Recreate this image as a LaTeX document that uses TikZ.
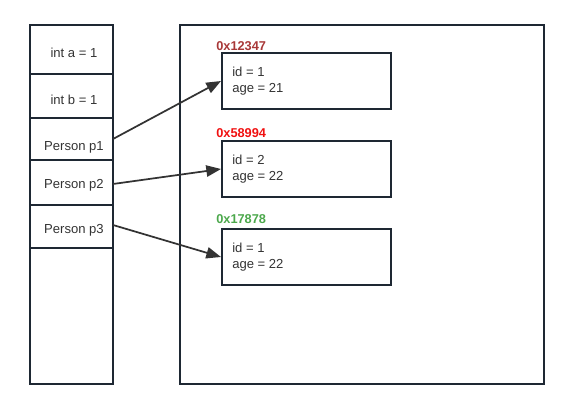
\documentclass[tikz,border=0pt]{standalone}
\usepackage{fontspec}
\setmainfont{Liberation Sans}
\usepackage{xcolor}
\usetikzlibrary{arrows.meta,positioning,calc}
\definecolor{framecol}{HTML}{1E2833}
\definecolor{txtcol}{HTML}{333333}
\definecolor{addrone}{HTML}{A83838}
\definecolor{addrtwo}{HTML}{F01010}
\definecolor{addrthree}{HTML}{4CA84C}
\tikzset{
  frame/.style={draw=framecol,line width=1.5pt},
  cell/.style={text=txtcol,font=\fontsize{9.8}{12}\selectfont,inner sep=0pt},
  objbox/.style={draw=framecol,line width=1.5pt,minimum width=126.75pt,minimum height=42pt,inner sep=0pt},
  objtext/.style={text=txtcol,font=\fontsize{9.8}{12}\selectfont,align=left,inner sep=0pt,anchor=north west},
  addr/.style={font=\bfseries\fontsize{9.6}{11}\selectfont,inner sep=0pt,anchor=south west},
  refarrow/.style={-{Triangle[length=11pt,width=8.5pt]},draw=txtcol,line width=1.3pt}
}
\begin{document}
\begin{tikzpicture}[x=0.75pt,y=-0.75pt]
  \useasboundingbox (0,0) rectangle (569,410);
  % stack
  \draw[frame] (30,25) rectangle (113,384);
  \foreach \yy in {74,118,160,205,248}
    \draw[frame] (30,\yy) -- (113,\yy);
  \node[cell] (va) at (74,53) {int a = 1};
  \node[cell] (vb) at (74,100) {int b = 1};
  \node[cell] (p1) at (74,147) {Person p1};
  \node[cell] (p2) at (74,185) {Person p2};
  \node[cell] (p3) at (74,230) {Person p3};
  \coordinate (p1out) at (113,139);
  \coordinate (p2out) at (113,184);
  \coordinate (p3out) at (113,225);
  % heap
  \draw[frame] (180,25) rectangle (544,384);
  \node[objbox,anchor=north west] (obj1) at (221,52) {};
  \node[objbox,anchor=north west] (obj2) at (221,140) {};
  \node[objbox,anchor=north west] (obj3) at (221,228) {};
  \node[objtext] (t1) at (232,67) {id = 1\\age = 21};
  \node[objtext] (t2) at (232,155) {id = 2\\age = 22};
  \node[objtext] (t3) at (232,243) {id = 1\\age = 22};
  \node[addr,text=addrone] (a1) at (216,51) {0x12347};
  \node[addr,text=addrtwo] (a2) at (216,138) {0x58994};
  \node[addr,text=addrthree] (a3) at (216,224) {0x17878};
  % references
  \draw[refarrow] (p1out) -- (obj1.west);
  \draw[refarrow] (p2out) -- (obj2.west);
  \draw[refarrow] (p3out) -- (obj3.west);
\end{tikzpicture}
\end{document}
